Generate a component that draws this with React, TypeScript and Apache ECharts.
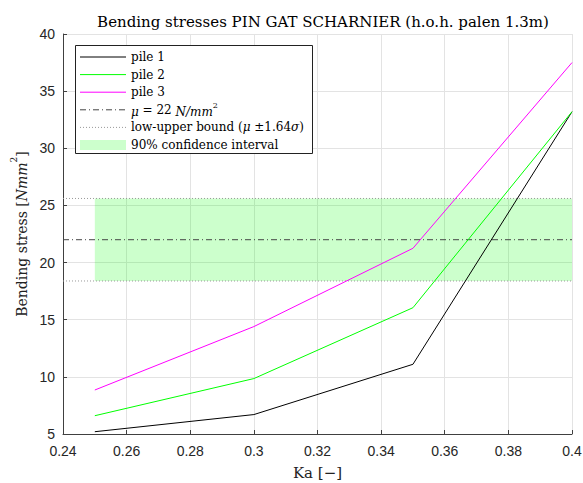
import React, { useEffect, useRef } from "react";
import * as echarts from "echarts";

const ka = [0.25, 0.3, 0.35, 0.4];
const pile1 = [5.2, 6.7, 11.1, 33.2];
const pile2 = [6.6, 9.85, 16.05, 33.2];
const pile3 = [8.85, 14.4, 21.25, 37.5];
const mu = 22;
const lowerBound = 18.39;
const upperBound = 25.61;
const bandStart = 0.25;
const xTicks = { min: 0.24, max: 0.4, interval: 0.02 };
const yTicks = { min: 5, max: 40, interval: 5 };

const SERIF = "'DejaVu Serif', 'Liberation Serif', serif";
const SANS = "'Liberation Sans', Arial, sans-serif";

export default function App() {
  const ref = useRef<HTMLDivElement>(null);
  useEffect(() => {
    if (!ref.current) return;
    const chart = echarts.init(ref.current, null, { renderer: "svg" });
    const L = { x0: 80, x1: 126, tx: 131, y0: 57, dy: 17.6 };
    const legendRow = (i: number) => L.y0 + i * L.dy;
    const legendText = (i: number, text: string, rich?: any) => ({
      type: "text",
      z: 101,
      style: {
        x: L.tx,
        y: legendRow(i),
        text,
        fill: "#000",
        fontFamily: SERIF,
        fontSize: 12,
        verticalAlign: "middle",
        rich,
      },
    });
    const legendLine = (i: number, color: string, dash?: number[]) => ({
      type: "line",
      z: 101,
      shape: { x1: L.x0, y1: legendRow(i), x2: L.x1, y2: legendRow(i) },
      style: { stroke: color, lineWidth: 1, lineDash: dash },
    });
    chart.setOption({
      animation: false,
      backgroundColor: "#fff",
      title: {
        text: "Bending stresses PIN GAT SCHARNIER (h.o.h. palen 1.3m)",
        left: 318,
        textAlign: "center",
        top: 9,
        textStyle: { fontFamily: SERIF, fontSize: 15, fontWeight: "normal", color: "#000" },
      },
      grid: { left: 63, right: 11, top: 34, bottom: 49, containLabel: false, outerBoundsMode: "none" },
      xAxis: {
        type: "value",
        min: xTicks.min,
        max: xTicks.max,
        interval: xTicks.interval,
        name: "Ka [−]",
        nameLocation: "middle",
        nameGap: 31,
        nameTextStyle: { fontFamily: SERIF, fontSize: 15, color: "#222" },
        axisLine: { show: true, lineStyle: { color: "#404040", width: 1 } },
        axisTick: { show: true, inside: true, length: 4, lineStyle: { color: "#404040" } },
        axisLabel: {
          showMinLabel: true,
          showMaxLabel: true,
          margin: 10,
          fontFamily: SANS,
          fontSize: 14,
          color: "#262626",
          formatter: (v: number) => String(parseFloat(v.toFixed(2))),
        },
        splitLine: { show: true, lineStyle: { color: "#e3e3e3", width: 1 } },
      },
      yAxis: {
        type: "value",
        min: yTicks.min,
        max: yTicks.max,
        interval: yTicks.interval,
        name: "{n|Bending stress [}{i|Nmm}{s|2}{n|]}",
        nameLocation: "middle",
        nameGap: 25,
        nameRotate: 90,
        nameTextStyle: {
          fontFamily: SERIF,
          fontSize: 14,
          color: "#222",
          rich: {
            n: { fontFamily: SERIF, fontSize: 14, color: "#222", lineHeight: 19, verticalAlign: "bottom" },
            i: { fontFamily: SERIF, fontSize: 14, fontStyle: "italic", color: "#222", lineHeight: 19, verticalAlign: "bottom" },
            s: { fontFamily: SERIF, fontSize: 9, color: "#222", lineHeight: 19, verticalAlign: "top" },
          },
        },
        axisLine: { show: true, lineStyle: { color: "#404040", width: 1 } },
        axisTick: { show: true, inside: true, length: 4, lineStyle: { color: "#404040" } },
        axisLabel: { margin: 8, fontFamily: SANS, fontSize: 14, color: "#262626" },
        splitLine: { show: true, lineStyle: { color: "#e3e3e3", width: 1 } },
      },
      series: [
        {
          name: "90% confidence interval",
          type: "line",
          data: [],
          silent: true,
          markArea: {
            silent: true,
            itemStyle: { color: "rgba(0,255,0,0.2)" },
            data: [[{ coord: [bandStart, lowerBound] }, { coord: [xTicks.max, upperBound] }]],
          },
        },
        {
          name: "lower",
          type: "line",
          symbol: "none",
          data: [[xTicks.min, lowerBound], [xTicks.max, lowerBound]],
          lineStyle: { color: "#999", width: 1, type: [1, 2] },
        },
        {
          name: "upper",
          type: "line",
          symbol: "none",
          data: [[xTicks.min, upperBound], [xTicks.max, upperBound]],
          lineStyle: { color: "#999", width: 1, type: [1, 2] },
        },
        {
          name: "mu",
          type: "line",
          symbol: "none",
          data: [[xTicks.min, mu], [xTicks.max, mu]],
          lineStyle: { color: "#444", width: 1, type: [6, 3, 1, 3] },
        },
        {
          name: "pile 1",
          type: "line",
          symbol: "none",
          data: ka.map((x, i) => [x, pile1[i]]),
          lineStyle: { color: "#000", width: 1 },
        },
        {
          name: "pile 2",
          type: "line",
          symbol: "none",
          data: ka.map((x, i) => [x, pile2[i]]),
          lineStyle: { color: "#00ff00", width: 1 },
        },
        {
          name: "pile 3",
          type: "line",
          symbol: "none",
          data: ka.map((x, i) => [x, pile3[i]]),
          lineStyle: { color: "#ff00ff", width: 1 },
        },
      ],
      graphic: [
        {
          type: "rect",
          z: 100,
          shape: { x: 75.5, y: 45.5, width: 237, height: 108 },
          style: { fill: "#fff", stroke: "#222", lineWidth: 1 },
        },
        legendLine(0, "#000"),
        legendLine(1, "#00ff00"),
        legendLine(2, "#ff00ff"),
        legendLine(3, "#444", [6, 3, 1, 3]),
        legendLine(4, "#999", [1, 2]),
        {
          type: "rect",
          z: 101,
          shape: { x: L.x0, y: legendRow(5) - 5, width: L.x1 - L.x0, height: 10 },
          style: { fill: "#ccffcc" },
        },
        legendText(0, "pile 1"),
        legendText(1, "pile 2"),
        legendText(2, "pile 3"),
        legendText(3, "{i|μ} = 22 {i|N/mm}{s|2}", {
          i: { fontFamily: SERIF, fontSize: 12, fontStyle: "italic", lineHeight: 16, verticalAlign: "bottom" },
          s: { fontFamily: SERIF, fontSize: 8, lineHeight: 16, verticalAlign: "top" },
        }),
        legendText(4, "low-upper bound ({i|μ} ±1.64{i|σ})", {
          i: { fontFamily: SERIF, fontSize: 12, fontStyle: "italic" },
        }),
        legendText(5, "90% confidence interval"),
      ],
    });
    return () => chart.dispose();
  }, []);
  return (
    <div
      ref={ref}
      style={{ position: "fixed", left: 0, top: 0, width: 583, height: 483 }}
    />
  );
}
